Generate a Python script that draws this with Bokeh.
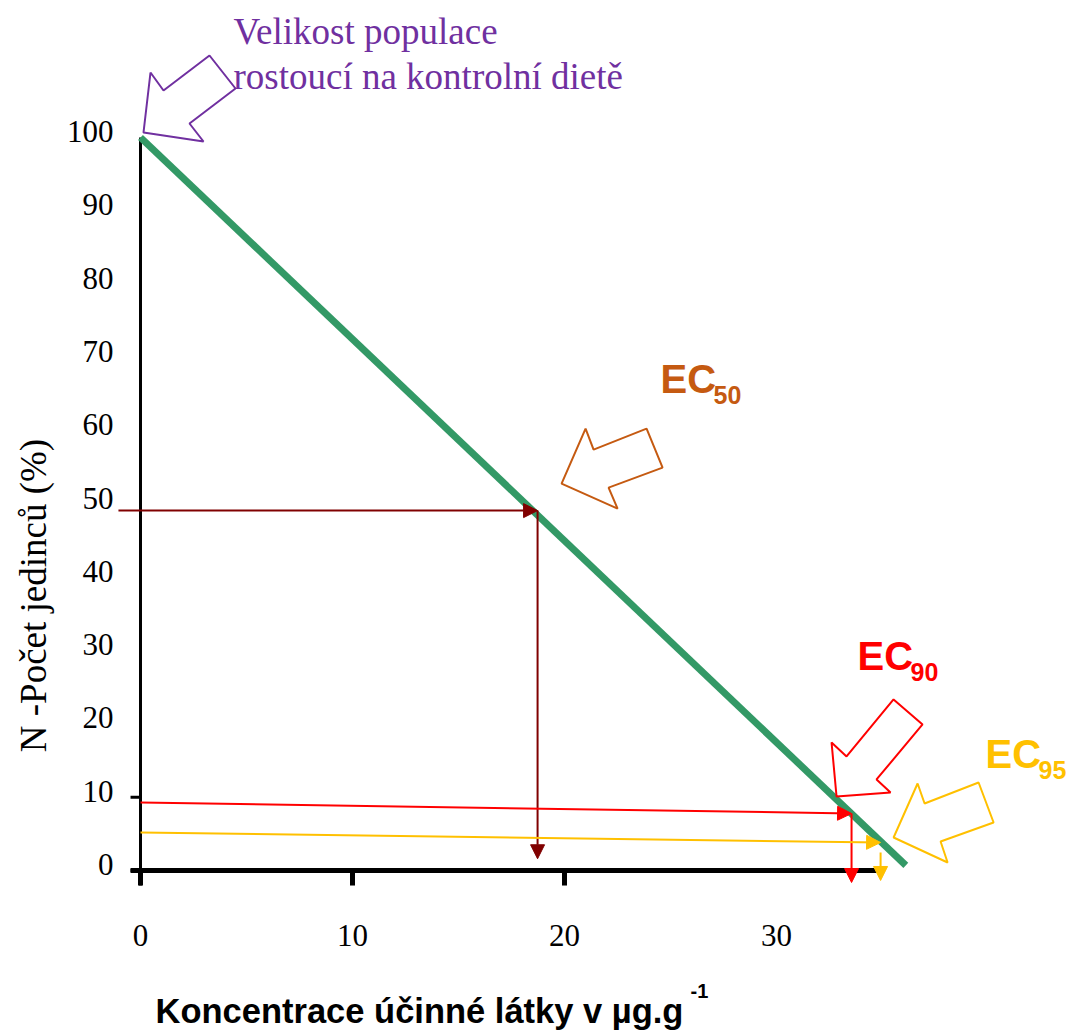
from bokeh.plotting import figure
from bokeh.models import Range1d, Arrow, NormalHead
from bokeh.core.properties import value
from bokeh.embed import file_html
from bokeh.resources import INLINE

# ---------------- data ----------------
line_x = [0, 36.1]            # concentration (µg/g)
line_y = [100, 0.7]           # population (%)

y_ticks = [0, 10, 20, 30, 40, 50, 60, 70, 80, 90, 100]
y_tick_labels = ["0", "10", "20", "30", "40", "50", "60", "70", "80", "90", "100"]
x_ticks = [0, 10, 20, 30]
x_tick_labels = ["0", "10", "20", "30"]
y_tick_marks = [0, 10]
x_tick_marks = [0, 10, 20]
x_axis_extent = [-0.47, 34.76]
y_axis_extent = [-2.05, 100]

ec_names = ["50", "90", "95"]
ec_h_x0 = [-1.04, 0, 0]          # start of the horizontal guide
ec_h_y0 = [49.1, 9.28, 5.18]
ec_x = [18.73, 33.54, 34.91]     # EC value on the x axis
ec_h_y1 = [49.1, 7.78, 3.82]
ec_v_top = [49.1, 7.78, 2.46]
ec_v_bottom = [1.6, -1.64, -1.36]

# ---------------- layout / styles ----------------
W, H = 1066, 1034
PX_X, PX_Y = 21.2, 7.33          # pixels per data unit
OX, OY = 140, 870                # canvas pixel of data origin

def dx(px):
    return px / PX_X

def dy(py):
    return -py / PX_Y

p = figure(width=W, height=H, output_backend="svg", toolbar_location=None,
           x_axis_location=None, y_axis_location=None, min_border=0,
           x_range=Range1d(-OX / PX_X, (W - OX) / PX_X),
           y_range=Range1d(-(H - OY) / PX_Y, OY / PX_Y))
p.grid.visible = False
p.outline_line_color = None
p.background_fill_color = "white"
p.border_fill_color = "white"

SERIF = value("Liberation Serif")
SANS = value("Liberation Sans")

GREEN = "#339966"
ec_line_colors = ["#800000", "#FF0000", "#FFC000"]
ec_text_colors = ["#C55A11", "#FF0000", "#FFC000"]
PURPLE = "#7030A0"

# axes drawn in data space
p.segment(x0=[0], y0=[y_axis_extent[0]], x1=[0], y1=[y_axis_extent[1]],
          line_color="black", line_width=3)
p.segment(x0=[x_axis_extent[0]], y0=[0], x1=[x_axis_extent[1]], y1=[0],
          line_color="black", line_width=5)
p.segment(x0=x_tick_marks, y0=[0] * len(x_tick_marks), x1=x_tick_marks,
          y1=[y_axis_extent[0]] * len(x_tick_marks), line_color="black", line_width=5)
p.segment(x0=[x_axis_extent[0]] * len(y_tick_marks), y0=y_tick_marks,
          x1=[0] * len(y_tick_marks), y1=y_tick_marks, line_color="black", line_width=3)

p.text(x=[0] * len(y_ticks), y=y_ticks, text=y_tick_labels, x_offset=-27, y_offset=-6,
       text_align="right", text_baseline="middle", text_font=SERIF,
       text_font_size="31px", text_color="black")
p.text(x=x_ticks, y=[0] * len(x_ticks), text=x_tick_labels, y_offset=65,
       text_align="center", text_baseline="middle", text_font=SERIF,
       text_font_size="31px", text_color="black")

# axis titles
p.text(x=[dx(33 - OX)], y=[dy(595 - OY)], text=["N -Počet jedinců (%)"], angle=1.5708,
       text_align="center", text_baseline="middle", text_font=SERIF,
       text_font_size="37px", text_color="black")
p.text(x=[dx(155 - OX)], y=[dy(1010 - OY)], text=["Koncentrace účinné látky v µg.g"],
       text_align="left", text_baseline="middle", text_font=SANS,
       text_font_style="bold", text_font_size="34.5px", text_color="black")
p.text(x=[dx(690 - OX)], y=[dy(990 - OY)], text=["-1"],
       text_align="left", text_baseline="middle", text_font=SANS,
       text_font_style="bold", text_font_size="20px", text_color="black")

# EC guides
for i in range(3):
    c = ec_line_colors[i]
    p.add_layout(Arrow(end=NormalHead(size=14, fill_color=c, line_color=c, line_width=1),
                       x_start=ec_h_x0[i], y_start=ec_h_y0[i], x_end=ec_x[i], y_end=ec_h_y1[i],
                       line_color=c, line_width=2))
    p.add_layout(Arrow(end=NormalHead(size=14, fill_color=c, line_color=c, line_width=1),
                       x_start=ec_x[i], y_start=ec_v_top[i], x_end=ec_x[i], y_end=ec_v_bottom[i],
                       line_color=c, line_width=2))

# main dose-response line
p.line(line_x, line_y, line_color=GREEN, line_width=7)

# block arrows (shapes in pixel offsets from their tips)
shape_a = [(0, 0), (7, -60), (20, -42), (66, -77), (92, -44), (46, -9), (60, 9)]
shape_50 = [(0, 0), (24, -55), (32, -34), (85, -55), (101, -16), (47, 4), (56, 25)]
shape_90 = [(0, 0), (-5, -54), (10, -40), (57, -97), (86, -72), (40, -17), (54, -4)]
shape_95 = [(0, 0), (24, -54), (31, -34), (85, -55), (100, -15), (47, 4), (54, 25)]

def block_arrow(ax, ay, tip_off, shape, color):
    tx, ty = ax + dx(tip_off[0]), ay + dy(tip_off[1])
    xs = [tx + dx(sx) for sx, sy in shape]
    ys = [ty + dy(sy) for sx, sy in shape]
    p.patch(xs, ys, fill_color="white", fill_alpha=0.0, line_color=color, line_width=2)

block_arrow(line_x[0], line_y[0], (3, -5), shape_a, PURPLE)
block_arrow(ec_x[0], ec_h_y1[0], (24, -27), shape_50, ec_text_colors[0])
block_arrow(ec_x[1], ec_h_y1[1], (-15, -17), shape_90, ec_text_colors[1])
block_arrow(ec_x[2], ec_h_y1[2], (13, -5), shape_95, ec_text_colors[2])

# purple annotation text
p.text(x=[line_x[0] + dx(93)] * 2, y=[line_y[0] + dy(-106), line_y[0] + dy(-61)],
       text=["Velikost populace", "rostoucí na kontrolní dietě"],
       text_align="left", text_baseline="middle", text_font=SERIF,
       text_font_size="37px", text_color=PURPLE)

# EC labels
text_offs = [(123, -132), (6, -157), (105, -88)]
for i in range(3):
    bx = ec_x[i] + dx(text_offs[i][0])
    by = ec_h_y1[i] + dy(text_offs[i][1])
    p.text(x=[bx], y=[by], text=["EC"], text_align="left", text_baseline="middle",
           text_font=SANS, text_font_style="bold", text_font_size="40px",
           text_color=ec_text_colors[i])
    p.text(x=[bx + dx(53)], y=[by + dy(16)], text=[ec_names[i]], text_align="left",
           text_baseline="middle", text_font=SANS, text_font_style="bold",
           text_font_size="25px", text_color=ec_text_colors[i])

open("out.html", "w").write(file_html(p, INLINE))
